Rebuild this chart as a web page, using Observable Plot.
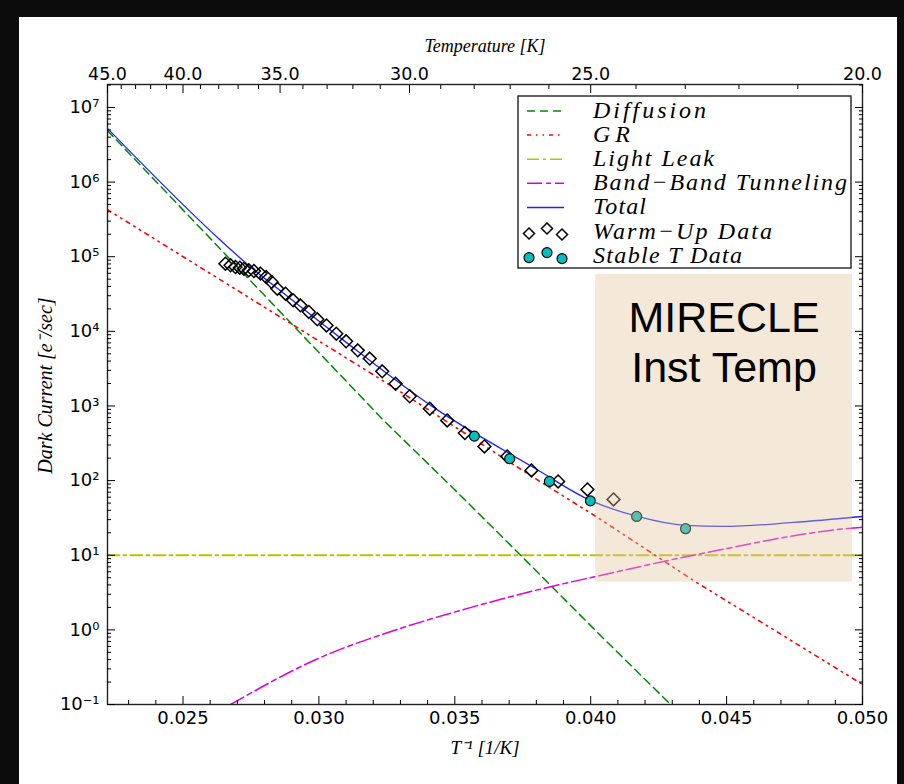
<!DOCTYPE html>
<html>
<head>
<meta charset="utf-8">
<script src="https://cdn.jsdelivr.net/npm/d3@7"></script>
<script src="https://cdn.jsdelivr.net/npm/@observablehq/plot@0.6"></script>
<style>
  html, body { margin: 0; padding: 0; background: #0c0c0c; }
  #wrap { position: absolute; left: 19px; top: 17px; width: 878px; height: 767px; background: #fff; overflow: hidden; }
  #wrap svg { position: absolute; left: 0; top: 0; }
</style>
</head>
<body>
<div id="wrap"></div>
<script>
// ---------- data ----------
// x = 1/T [1/K], y = dark current [e-/sec]
const diffusion = [
  [0.02222, 4.9e6], [0.02631, 1.34e5], [0.03238, 641], [0.03495, 78.5],
  [0.03742, 10], [0.04036, 0.84], [0.04294, 0.1]
];
const gr = [
  [0.02222, 4.27e5], [0.02741, 2.86e4], [0.03275, 1774], [0.03790, 110],
  [0.04025, 32.1], [0.04378, 4.59], [0.05, 0.186]
];
const lightLeak = [[0.02222, 10], [0.05, 10]];
const bbt = [
  [0.02675, 0.1], [0.03006, 0.427], [0.03300, 1.045], [0.03547, 1.94],
  [0.03841, 3.70], [0.04036, 5.36], [0.04378, 10], [0.04993, 23.6], [0.05, 23.7]
];
const total = [
  [0.02222, 5.25e6], [0.02638, 1.66e5], [0.02741, 7.67e4], [0.02870, 3.23e4],
  [0.03091, 7570], [0.03422, 957], [0.03790, 150], [0.03999, 54.3],
  [0.04172, 33.1], [0.04349, 25.1], [0.04489, 24.3], [0.04746, 27.5], [0.05, 33.1]
];
const warmUp = [
  [0.02656, 80700], [0.02675, 76700], [0.02693, 72800], [0.02709, 71400],
  [0.02724, 69200], [0.02742, 65800], [0.02761, 64300], [0.02785, 59400],
  [0.02806, 53500], [0.02826, 45800], [0.02847, 37300], [0.02877, 32000],
  [0.02905, 26100], [0.02932, 22300], [0.02963, 18200], [0.02994, 14500],
  [0.03028, 12000], [0.03064, 9310], [0.03100, 7350], [0.03143, 5560],
  [0.03187, 4310], [0.03233, 2910], [0.03282, 1990], [0.03334, 1350],
  [0.03408, 920], [0.03472, 641], [0.03537, 434], [0.03609, 287],
  [0.03693, 211], [0.03782, 137], [0.03880, 97.5], [0.03988, 76.2], [0.04084, 56.0]
];
const stableT = [
  [0.03572, 394], [0.03702, 197], [0.03848, 97.5], [0.03999, 53.5],
  [0.04169, 33.1], [0.04349, 22.7]
];
const mirecle = {x1: 0.04018, x2: 0.04963, y1: 4.36, y2: 5.8e4, label: "MIRECLE\nInst Temp"};

// ticks
const xMajor = [0.025, 0.030, 0.035, 0.040, 0.045, 0.050];
const xMinor = [0.023, 0.024, 0.026, 0.027, 0.028, 0.029, 0.031, 0.032, 0.033, 0.034,
                0.036, 0.037, 0.038, 0.039, 0.041, 0.042, 0.043, 0.044, 0.046, 0.047, 0.048, 0.049];
const tMajor = [45, 40, 35, 30, 25, 20];
const tMinor = [44, 43, 42, 41, 39, 38, 37, 36, 34, 33, 32, 31, 29, 28, 27, 26, 24, 23, 22, 21];
const yMajor = [1e-1, 1e0, 1e1, 1e2, 1e3, 1e4, 1e5, 1e6, 1e7];
const yMinor = [];
for (let e = -1; e <= 7; e++) for (let m = 2; m <= 9; m++) {
  const v = m * Math.pow(10, e);
  if (v <= 2.03e7) yMinor.push(v);
}

// styles
const C = {diff: "#008800", gr: "#ff0000", ll: "#bfbf00", bbt: "#dd00dd", total: "#2020ff", stable: "#00bfbf"};
const D = {diff: "8,5", gr: "4,5,1.5,5,1.5,5", ll: "12,4,3,4", bbt: "15,4,5,4"};

const supMap = {"-": "\u207B", "0": "\u2070", "1": "\u00B9", "2": "\u00B2", "3": "\u00B3",
  "4": "\u2074", "5": "\u2075", "6": "\u2076", "7": "\u2077", "8": "\u2078", "9": "\u2079"};
const sup = d => "10" + String(Math.round(Math.log10(d))).replace(/./g, c => supMap[c]);
const blank = () => "";
const serif = "Liberation Serif";

const lineOpts = (stroke, dash, w, curve) => ({x: d => d[0], y: d => d[1], stroke, strokeWidth: w,
  strokeDasharray: dash, curve, clip: true});

const chart = Plot.plot({
  width: 878, height: 767,
  marginLeft: 88, marginRight: 35, marginTop: 67, marginBottom: 80,
  x: {domain: [1 / 45, 1 / 20], label: null},
  y: {type: "log", domain: [0.1, 2.03e7], label: null},
  style: {fontFamily: "DejaVu Sans", fontSize: "18px", background: "transparent", color: "black"},
  marks: [
    Plot.line(lightLeak, lineOpts(C.ll, D.ll, 1.8, "linear")),
    Plot.line(diffusion, lineOpts(C.diff, D.diff, 1.5, "linear")),
    Plot.line(gr, lineOpts(C.gr, D.gr, 1.6, "linear")),
    Plot.line(bbt, lineOpts(C.bbt, D.bbt, 1.5, "monotone-x")),
    Plot.line(total, lineOpts(C.total, null, 1.3, "monotone-x")),
    Plot.dot(warmUp, {x: d => d[0], y: d => d[1], symbol: "diamond2", r: 5.8, fill: "none", stroke: "black", strokeWidth: 1.5}),
    Plot.dot(stableT, {x: d => d[0], y: d => d[1], r: 5, fill: C.stable, stroke: "black", strokeWidth: 1.2}),
    Plot.rect([mirecle], {x1: "x1", x2: "x2", y1: "y1", y2: "y2", fill: "#e3c59c", fillOpacity: 0.38}),
    Plot.text([mirecle], {x: d => (d.x1 + d.x2) / 2, y: "y2", text: "label", lineAnchor: "top", dy: 22,
      lineHeight: 1.17, fontSize: 43, fontFamily: "Liberation Sans", fill: "black"}),
    Plot.frame({stroke: "#222", strokeWidth: 1.4}),
    Plot.axisX({anchor: "bottom", ticks: xMajor, tickSize: -8, tickPadding: 15, tickFormat: d3.format(".3f"), label: null, fontSize: 18}),
    Plot.axisX({anchor: "bottom", ticks: xMinor, tickSize: -4, tickFormat: blank, label: null}),
    Plot.axisX({anchor: "top", ticks: tMajor.map(t => 1 / t), tickSize: -8, tickPadding: 13, tickFormat: d => (1 / d).toFixed(1), label: null, fontSize: 17.5}),
    Plot.axisX({anchor: "top", ticks: tMinor.map(t => 1 / t), tickSize: -4, tickFormat: blank, label: null}),
    Plot.axisY({anchor: "left", ticks: yMajor, tickSize: -8, tickPadding: 16, tickFormat: sup, label: null, fontSize: 18}),
    Plot.axisY({anchor: "left", ticks: yMinor, tickSize: -4, tickFormat: blank, label: null}),
    Plot.axisY({anchor: "right", ticks: yMajor, tickSize: -8, tickFormat: blank, label: null}),
    Plot.axisY({anchor: "right", ticks: yMinor, tickSize: -4, tickFormat: blank, label: null}),
    Plot.text(["Dark Current [e\u207B/sec]"], {text: d => d, frameAnchor: "left", rotate: -90, dx: -62, dy: -9,
      textAnchor: "middle", lineAnchor: "middle",
      fontFamily: serif, fontStyle: "italic", fontSize: 20, fill: "black"}),
    Plot.text(["T\u207B\u00B9 [1/K]"], {text: d => d, frameAnchor: "bottom", dy: 43,
      textAnchor: "middle", lineAnchor: "middle",
      fontFamily: serif, fontStyle: "italic", fontSize: 19, fill: "black"}),
    Plot.text(["Temperature [K]"], {text: d => d, frameAnchor: "top", dy: -38,
      textAnchor: "middle", lineAnchor: "middle",
      fontFamily: serif, fontStyle: "italic", fontSize: 18, fill: "black"})
  ]
});
const wrap = document.getElementById("wrap");
wrap.appendChild(chart);

// ---------- legend (overlay) ----------
const legendRows = [
  {label: "Diffusion", type: "line", stroke: C.diff, dash: D.diff, w: 113},
  {label: "GR", type: "line", stroke: C.gr, dash: D.gr, w: 37},
  {label: "Light Leak", type: "line", stroke: C.ll, dash: D.ll, w: 121},
  {label: "Band\u2212Band Tunneling", type: "line", stroke: C.bbt, dash: D.bbt, w: 254},
  {label: "Total", type: "line", stroke: C.total, dash: null, w: 53},
  {label: "Warm\u2212Up Data", type: "diamond", w: 179},
  {label: "Stable T Data", type: "circle", w: 149}
];
const lg = d3.create("svg").attr("width", 878).attr("height", 767).style("pointer-events", "none");
const box = {x: 499, y: 79, w: 333, h: 172};
lg.append("rect").attr("x", box.x).attr("y", box.y).attr("width", box.w).attr("height", box.h)
  .attr("fill", "white").attr("stroke", "#222").attr("stroke-width", 1.4);
const scatterOffsets = [[0, 3], [18, -2], [33, 4]];
legendRows.forEach((r, i) => {
  const cy = 94 + i * 24.1;
  const g = lg.append("g");
  if (r.type === "line") {
    g.append("line").attr("x1", 508).attr("x2", 545).attr("y1", cy).attr("y2", cy)
      .attr("stroke", r.stroke).attr("stroke-width", 1.5).attr("stroke-dasharray", r.dash);
  } else {
    scatterOffsets.forEach(([dx, dy]) => {
      const px = 510 + dx, py = cy + dy - 1;
      if (r.type === "diamond") {
        g.append("path").attr("d", `M${px},${py - 5.5}L${px + 5.5},${py}L${px},${py + 5.5}L${px - 5.5},${py}Z`)
          .attr("fill", "none").attr("stroke", "black").attr("stroke-width", 1.5);
      } else {
        g.append("circle").attr("cx", px).attr("cy", py).attr("r", 5)
          .attr("fill", C.stable).attr("stroke", "black").attr("stroke-width", 1.2);
      }
    });
  }
  g.append("text").attr("x", 574).attr("y", cy + 7).text(r.label)
    .attr("textLength", r.w).attr("lengthAdjust", "spacing")
    .attr("font-family", serif).attr("font-style", "italic").attr("font-size", 24).attr("fill", "black");
});
wrap.appendChild(lg.node());
</script>
</body>
</html>
